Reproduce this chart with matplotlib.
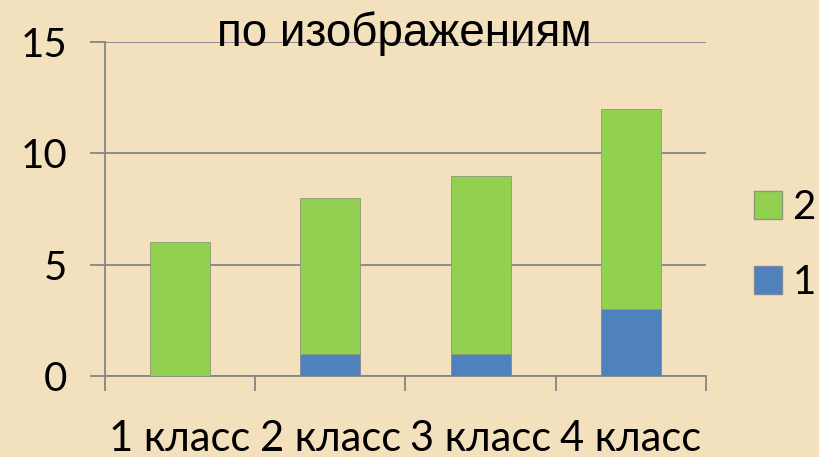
import matplotlib.pyplot as plt
from matplotlib.patches import Patch

categories = ['1 класс', '2 класс', '3 класс', '4 класс']
series_1 = [0, 1, 1, 3]
series_2 = [6, 7, 8, 9]
title = 'по изображениям'

green = '#92D050'
blue = '#4F81BD'
bg = '#f3e0bc'

fig = plt.figure(figsize=(8.19, 4.57), dpi=100, facecolor=bg)
ax = fig.add_axes([0.1282, 0.1772, 0.7338, 0.7309])
ax.set_facecolor('none')

x = list(range(len(categories)))
ax.bar(x, series_1, width=0.4, color=blue, edgecolor='#7f8a9a', linewidth=0.6, zorder=3)
ax.bar(x, series_2, bottom=series_1, width=0.4, color=green, edgecolor='#8a9a7a', linewidth=0.6, zorder=3)

ax.set_xlim(-0.5, 3.5)
ax.set_ylim(0, 15)
ax.set_yticks([0, 5, 10, 15])
ax.yaxis.grid(True, color='#868686', linewidth=1.3, zorder=1)
ax.set_axisbelow(True)

for s in ['top', 'right']:
    ax.spines[s].set_visible(False)
for s in ['left', 'bottom']:
    ax.spines[s].set_color('#868686')
    ax.spines[s].set_linewidth(1.3)

ax.set_xticks(x)
ax.set_xticklabels(categories)
ax.set_xticks([-0.5, 0.5, 1.5, 2.5, 3.5], minor=True)
ax.tick_params(axis='x', which='major', length=0, pad=32, labelsize=30)
ax.tick_params(axis='x', which='minor', length=11, width=1.3, color='#868686')
ax.tick_params(axis='y', length=11, width=1.3, color='#868686', pad=16, labelsize=29)
for lbl in ax.get_xticklabels() + ax.get_yticklabels():
    lbl.set_fontfamily('Lato')

fig.text(404 / 819, 1 - 34 / 457, title, ha='center', va='center',
         fontsize=33, family='Liberation Sans', zorder=5)

handles = [Patch(facecolor=green, edgecolor='#8a9a7a'), Patch(facecolor=blue, edgecolor='#7f8a9a')]
fig.legend(handles, ['2', '1'], loc='upper left', bbox_to_anchor=(0.921, 0.586),
           frameon=False, prop={'family': 'Lato', 'size': 29},
           handlelength=0.7, handleheight=0.7, handletextpad=0.25, labelspacing=0.95,
           borderpad=0, borderaxespad=0)

fig.savefig('out.png', dpi=100, facecolor=bg)
